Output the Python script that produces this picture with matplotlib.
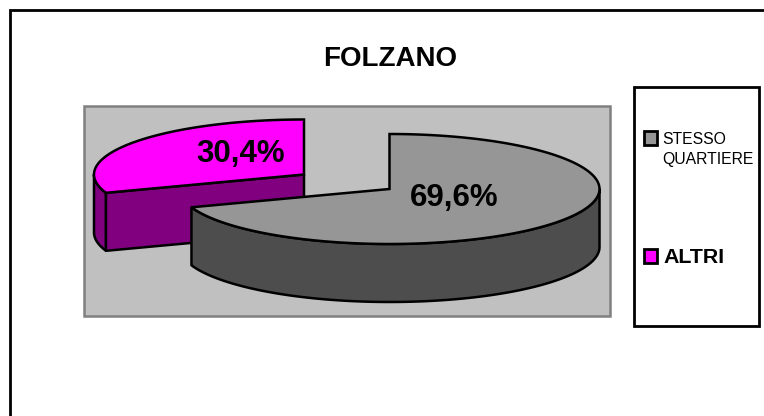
import numpy as np
import matplotlib
matplotlib.use('Agg')
import matplotlib.pyplot as plt
from matplotlib.patches import Polygon, Rectangle

# Data
title = 'FOLZANO'
categories = ['STESSO\nQUARTIERE', 'ALTRI']
values = [69.6, 30.4]
value_labels = ['69,6%', '30,4%']

# Colours
top_colors = ['#969696', '#ff00ff']
side_colors = ['#4d4d4d', '#800080']

plt.rcParams['font.family'] = ['Liberation Sans', 'DejaVu Sans']

fig = plt.figure(figsize=(7.64, 4.16), dpi=100)
ax = fig.add_axes([0, 0, 1, 1])
ax.set_xlim(0, 764)
ax.set_ylim(416, 0)
ax.axis('off')

# Outer chart border, only the top and left sides are visible
ax.plot([9.5, 9.5, 764], [416, 10, 10], color='black', lw=2, solid_joinstyle='miter')

# Plot area
ax.add_patch(Rectangle((84, 106), 525.5, 210, fc='#c0c0c0', ec='#808080', lw=1.8))

# Pie geometry
rx, ry, depth = 210, 55, 58
centers = [(389.5, 189), (304, 174.5)]


def rim(center, start, end):
    # points on the ellipse, angles clockwise from 12 o'clock, in percent of the pie
    ang = np.radians(np.linspace(start, end, 200) * 3.6)
    return np.column_stack([center[0] + rx * np.sin(ang), center[1] - ry * np.cos(ang)])


def draw_slice(i, start, end):
    c = np.array(centers[i], dtype=float)
    down = np.array([0, depth])
    arc = rim(c, start, end)
    # side wall, only the part of the rim facing the viewer
    vis_start, vis_end = max(start, 25), min(end, 75)
    wall = rim(c, vis_start, vis_end)
    ax.add_patch(Polygon(np.vstack([wall, (wall + down)[::-1]]), fc=side_colors[i],
                         ec='black', lw=1.8, joinstyle='round'))
    if i == 1:
        # cut face of the back slice looks at the viewer
        cut = np.array([c, arc[0], arc[0] + down, c + down])
        ax.add_patch(Polygon(cut, fc=side_colors[i], ec='black', lw=1.8, joinstyle='round'))
    ax.add_patch(Polygon(np.vstack([c, arc]), fc=top_colors[i], ec='black', lw=1.8, joinstyle='miter'))


# Back slice first so that the big one covers it
draw_slice(1, values[0], values[0] + values[1])
draw_slice(0, 0, values[0])

ax.text(454.5, 198, value_labels[0], fontsize=22.5, fontweight='bold', ha='center', va='center')
ax.text(240.5, 154, value_labels[1], fontsize=22.5, fontweight='bold', ha='center', va='center')

ax.text(390, 59, title, fontsize=20, fontweight='bold', ha='center', va='center')

# Legend
ax.add_patch(Rectangle((634, 87), 125, 239, fc='white', ec='black', lw=2))
ax.add_patch(Rectangle((643.5, 131), 13.5, 14, fc=top_colors[0], ec='black', lw=2))
ax.add_patch(Rectangle((643.5, 249), 13.5, 14, fc=top_colors[1], ec='black', lw=2))
ax.text(662, 139.5, categories[0].split('\n')[0], fontsize=11.3, ha='left', va='center')
ax.text(662, 159.5, categories[0].split('\n')[1], fontsize=11.3, ha='left', va='center')
ax.text(663, 257.5, categories[1], fontsize=15.4, fontweight='bold', ha='left', va='center')

fig.savefig('out.png', dpi=100)
plt.close(fig)
